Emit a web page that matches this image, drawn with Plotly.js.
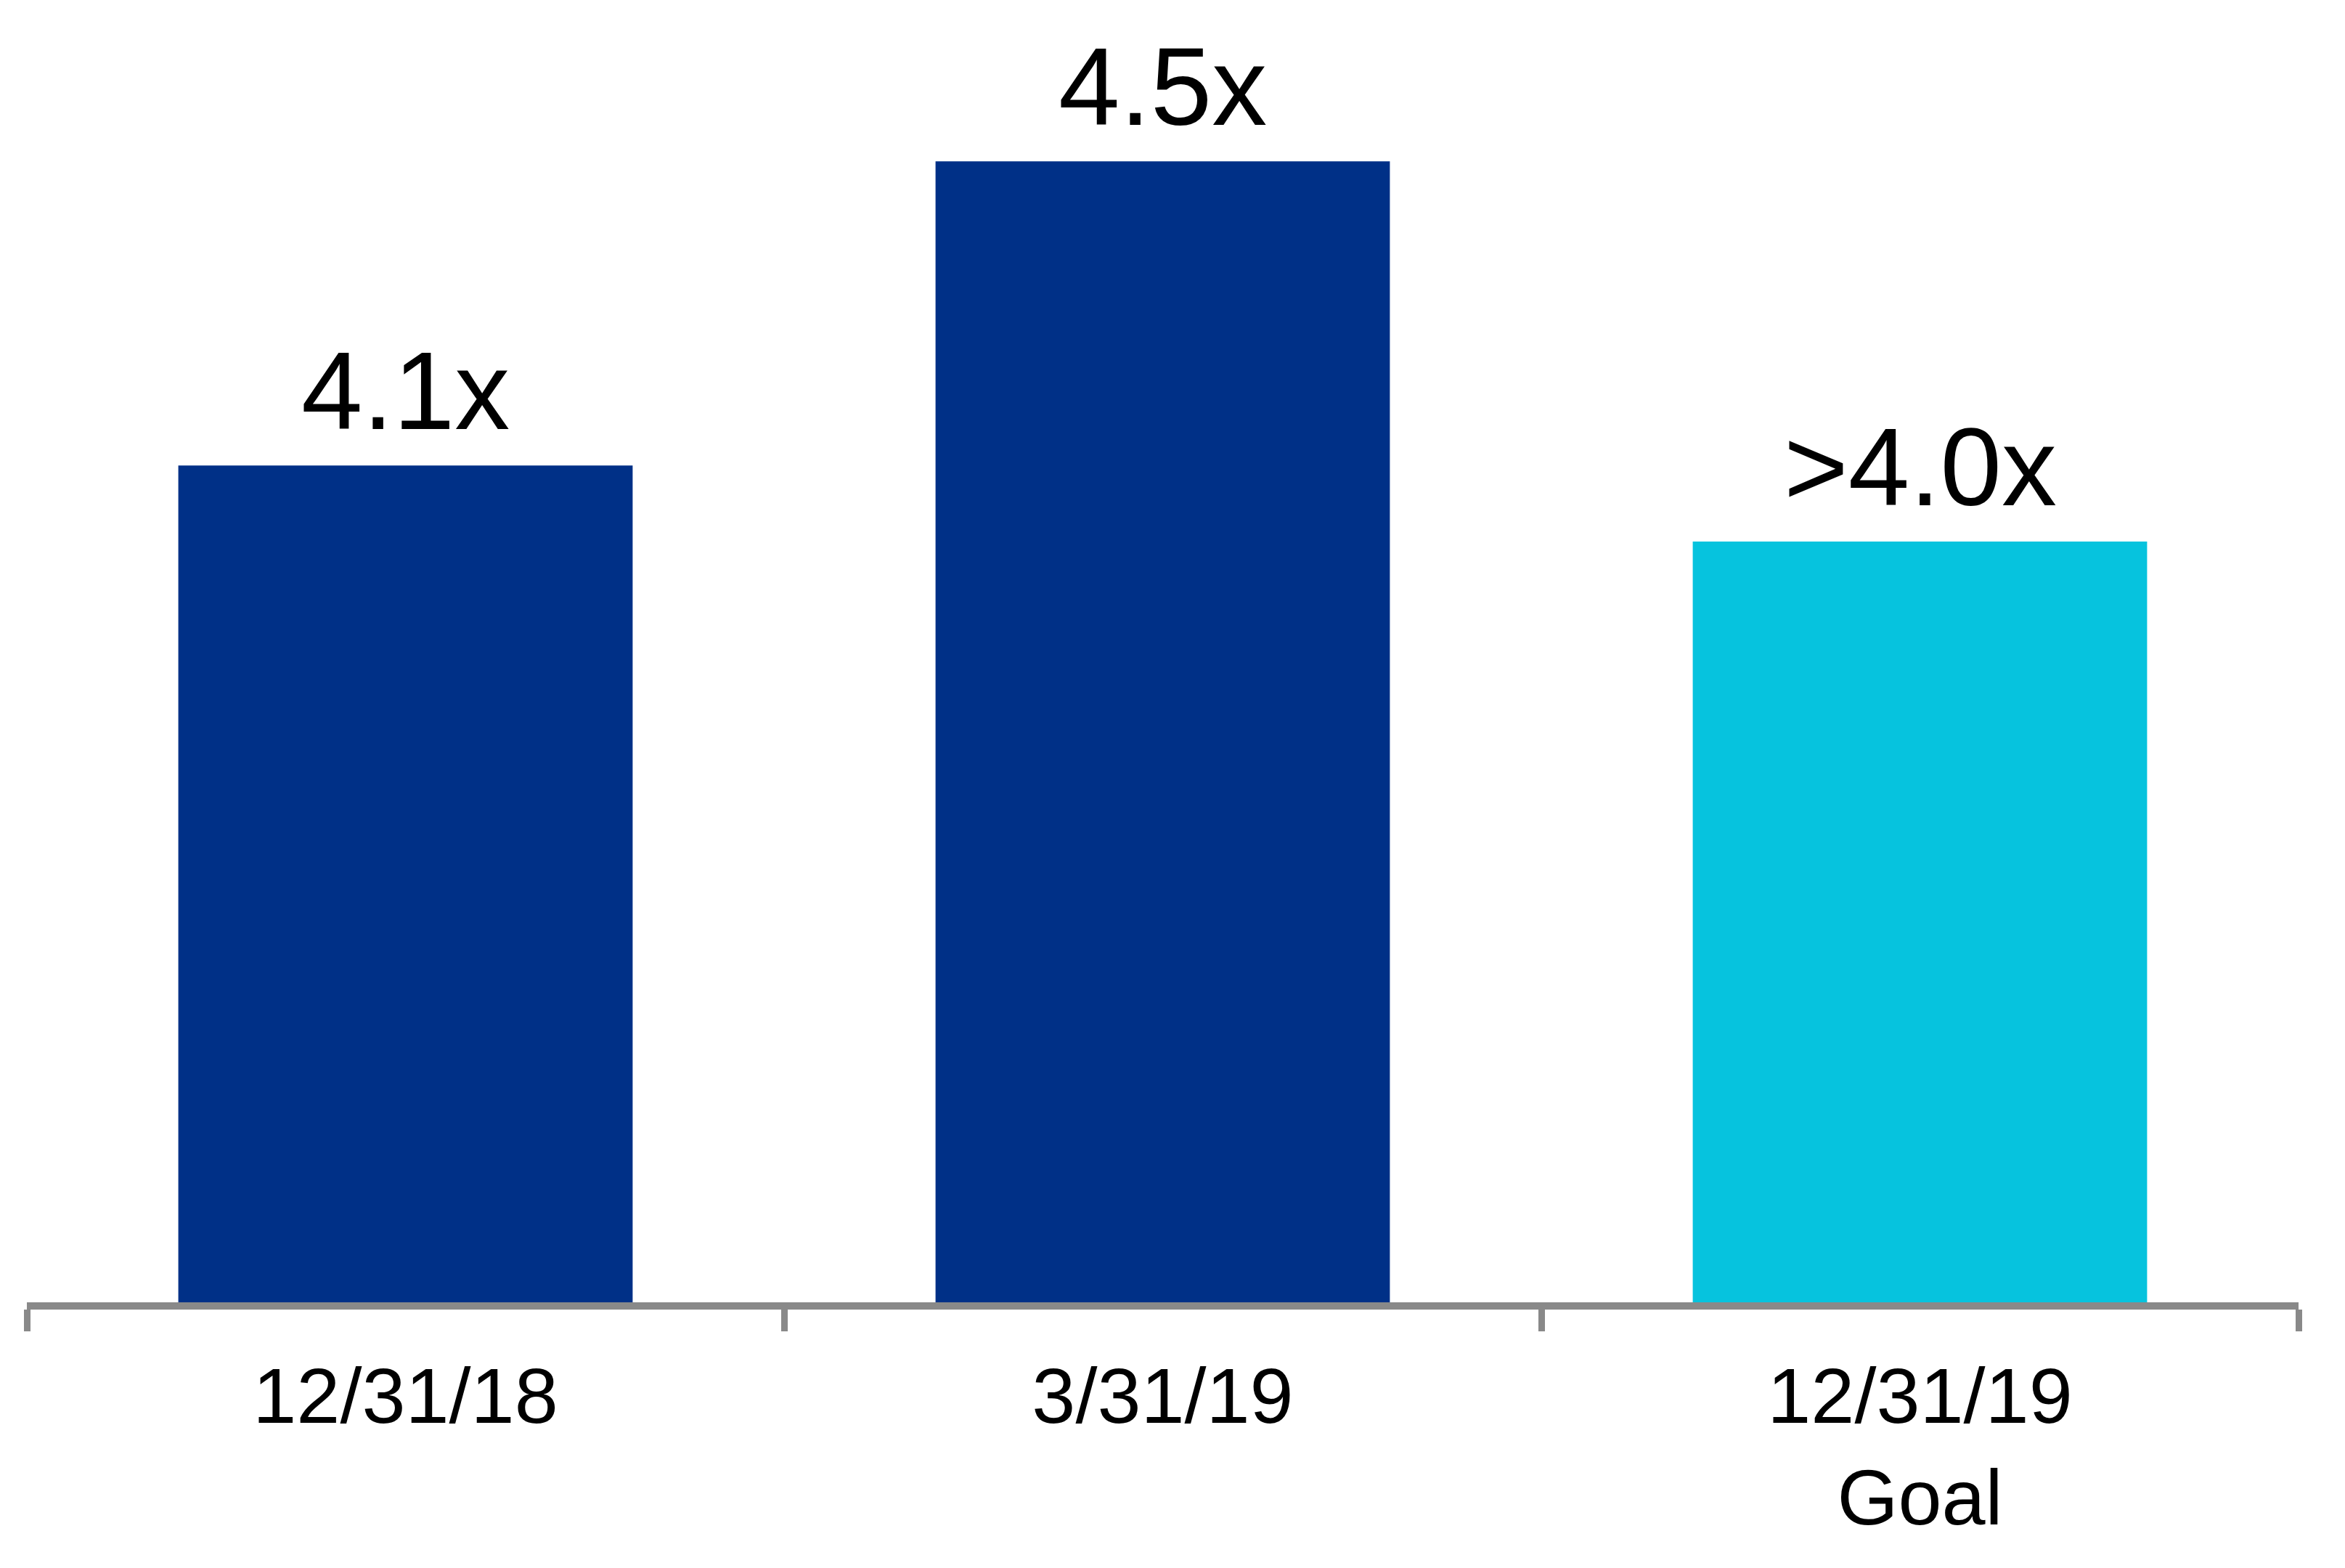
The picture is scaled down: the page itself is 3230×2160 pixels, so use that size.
<!DOCTYPE html>
<html>
<head>
<meta charset="utf-8">
<script src="https://cdn.plot.ly/plotly-3.0.1.min.js"></script>
<style>
html,body{margin:0;padding:0;background:#fff;}
#chart{width:3230px;height:2160px;}
</style>
</head>
<body>
<div id="chart"></div>
<script>
const categories = ["12/31/18", "3/31/19", "12/31/19<br>Goal"];
const values = [4.1, 4.5, 4.0];
const valueLabels = ["4.1x", "4.5x", ">4.0x"];
const barColors = ["#003087", "#003087", "#06C3DE"];

const trace = {
  type: "bar",
  x: categories,
  y: values,
  marker: {color: barColors, line: {width: 0}},
  hoverinfo: "skip"
};

const annotations = categories.map((c, i) => ({
  x: c,
  y: values[i],
  xref: "x",
  yref: "y",
  text: valueLabels[i],
  showarrow: false,
  yanchor: "bottom",
  yshift: 16,
  font: {family: "Liberation Sans, Arial, sans-serif", size: 152, color: "#000"}
}));

const layout = {
  width: 3230,
  height: 2160,
  margin: {l: 37, r: 64, t: 0, b: 366},
  paper_bgcolor: "#fff",
  plot_bgcolor: "#fff",
  showlegend: false,
  bargap: 0.4,
  font: {family: "Liberation Sans, Arial, sans-serif", color: "#000"},
  xaxis: {
    type: "category",
    range: [-0.5, 2.5],
    showline: true,
    linecolor: "#898989",
    linewidth: 10,
    ticks: "outside",
    tickson: "boundaries",
    ticklen: 30,
    tickwidth: 9,
    tickcolor: "#898989",
    showgrid: false,
    zeroline: false,
    tickfont: {family: "Liberation Sans, Arial, sans-serif", size: 108, color: "#000"},
    ticklabelstandoff: 26
  },
  yaxis: {
    range: [3, 4.712],
    visible: false,
    showgrid: false,
    zeroline: false
  },
  annotations: annotations
};

Plotly.newPlot("chart", [trace], layout, {staticPlot: true, displayModeBar: false});
</script>
</body>
</html>
